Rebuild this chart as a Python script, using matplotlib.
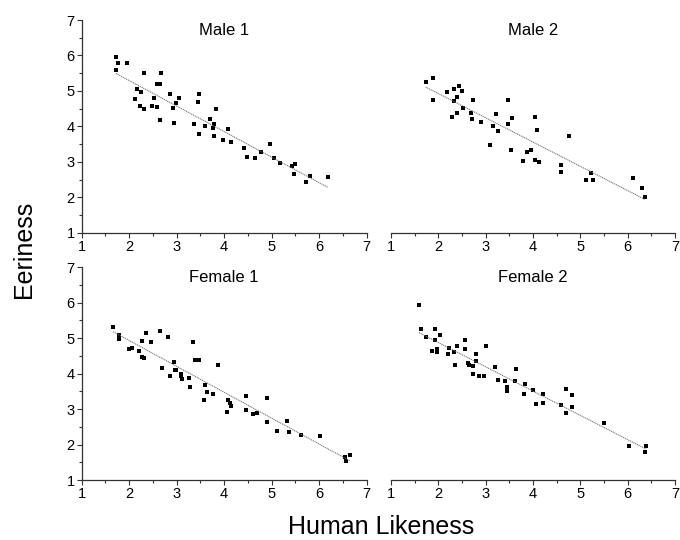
import matplotlib
matplotlib.use("Agg")
import matplotlib.pyplot as plt
import numpy as np
from matplotlib.ticker import MultipleLocator

plt.rcParams['font.family'] = ['Liberation Sans', 'DejaVu Sans']

titles = ["Male 1", "Male 2", "Female 1", "Female 2"]

male1_x = [1.72, 1.76, 1.73, 1.96, 2.32, 2.68, 2.17, 2.25, 2.12, 2.52, 2.58, 2.64,
           2.22, 2.32, 2.48, 2.58, 2.65, 2.87, 2.92, 2.94, 2.99, 3.04, 3.36, 3.44,
           3.47, 3.48, 3.59, 3.71, 3.76, 3.79, 3.79, 3.83, 3.98, 4.09, 4.14, 4.41,
           4.49, 4.65, 4.77, 4.97, 5.05, 5.18, 5.42, 5.50, 5.47, 5.72, 5.81, 6.18]
male1_y = [5.95, 5.80, 5.58, 5.78, 5.51, 5.51, 5.06, 4.97, 4.77, 4.80, 5.19, 5.19,
           4.57, 4.50, 4.57, 4.55, 4.19, 4.90, 4.52, 4.10, 4.67, 4.81, 4.08, 4.70,
           4.90, 3.78, 4.00, 4.20, 3.95, 4.06, 3.73, 4.50, 3.62, 3.93, 3.57, 3.40,
           3.13, 3.11, 3.28, 3.49, 3.12, 2.97, 2.88, 2.95, 2.66, 2.43, 2.61, 2.58]

male2_x = [1.73, 1.88, 1.88, 2.18, 2.34, 2.43, 2.49, 2.40, 2.33, 2.74, 2.53, 2.28,
           2.40, 2.68, 2.71, 2.90, 3.16, 3.22, 3.25, 3.10, 3.48, 3.48, 3.55, 3.54,
           3.78, 3.88, 3.96, 4.05, 4.08, 4.05, 4.13, 4.60, 4.60, 4.75, 5.13, 5.23,
           5.26, 6.12, 6.30, 6.36]
male2_y = [5.25, 5.35, 4.75, 4.97, 5.05, 5.15, 4.99, 4.82, 4.72, 4.73, 4.53, 4.27,
           4.37, 4.38, 4.20, 4.12, 4.00, 4.35, 3.86, 3.46, 4.73, 4.08, 4.23, 3.32,
           3.01, 3.29, 3.34, 4.25, 3.91, 3.06, 2.99, 2.90, 2.72, 3.72, 2.48, 2.69,
           2.48, 2.53, 2.25, 2.00]

female1_x = [1.66, 1.79, 1.79, 2.00, 2.07, 2.21, 2.27, 2.35, 2.46, 2.28, 2.31, 2.64,
             2.70, 2.82, 2.85, 2.95, 2.96, 2.99, 3.09, 3.10, 3.12, 3.26, 3.28, 3.34,
             3.38, 3.48, 3.87, 3.57, 3.59, 3.63, 3.76, 4.09, 4.12, 4.15, 4.07, 4.47,
             4.47, 4.61, 4.70, 4.90, 4.90, 5.11, 5.33, 5.36, 5.62, 6.02, 6.54, 6.56,
             6.65]
female1_y = [5.31, 5.10, 4.98, 4.69, 4.73, 4.65, 4.91, 5.15, 4.90, 4.47, 4.44, 5.21,
             4.17, 5.03, 3.93, 4.34, 4.11, 4.09, 3.98, 3.93, 3.86, 3.89, 3.62, 4.89,
             4.39, 4.39, 4.25, 3.26, 3.68, 3.48, 3.44, 3.25, 3.17, 3.10, 2.91, 3.38,
             2.98, 2.86, 2.89, 3.30, 2.63, 2.39, 2.67, 2.35, 2.28, 2.25, 1.64, 1.53,
             1.70]

female2_x = [1.59, 1.64, 1.74, 1.93, 1.92, 2.04, 1.86, 1.98, 1.98, 2.22, 2.21, 2.33,
             2.40, 2.57, 2.57, 2.36, 2.63, 2.64, 2.74, 2.79, 2.80, 2.74, 2.85, 2.97,
             3.00, 3.19, 3.27, 3.41, 3.46, 3.46, 3.46, 3.64, 3.62, 3.84, 3.80, 3.99,
             4.06, 4.21, 4.21, 4.60, 4.69, 4.82, 4.70, 4.83, 5.49, 6.02, 6.39, 6.36]
female2_y = [5.95, 5.26, 5.04, 5.26, 4.96, 5.08, 4.63, 4.69, 4.62, 4.73, 4.55, 4.60,
             4.79, 4.96, 4.69, 4.25, 4.31, 4.25, 4.22, 4.55, 4.37, 4.00, 3.94, 3.94,
             4.79, 4.18, 3.81, 3.78, 3.63, 3.57, 3.52, 4.14, 3.80, 3.71, 3.44, 3.53,
             3.15, 3.42, 3.18, 3.11, 3.56, 3.41, 2.88, 3.06, 2.62, 1.96, 1.96, 1.80]

series = [(male1_x, male1_y), (male2_x, male2_y), (female1_x, female1_y), (female2_x, female2_y)]

W, H = 680, 540
fig = plt.figure(figsize=(W / 100, H / 100), dpi=100)

lefts = [81.7, 391.0]
widths = [284.8, 284.0]
tops = [20.0, 267.3]
heights = [212.7, 212.7]

spine_color = '#333333'
for i, (xs, ys) in enumerate(series):
    r, c = divmod(i, 2)
    ax = fig.add_axes([lefts[c] / W, 1 - (tops[r] + heights[r]) / H, widths[c] / W, heights[r] / H])
    xs = np.array(xs)
    ys = np.array(ys)
    ax.plot(xs, ys, 's', color='black', ms=3.2, mew=0)
    k, b = np.polyfit(xs, ys, 1)
    lx = np.array([xs.min(), xs.max()])
    ax.plot(lx, k * lx + b, linestyle=(0, (1.2, 0.8)), color='#666666', lw=0.7)
    ax.set_xlim(1, 7)
    ax.set_ylim(1, 7)
    ax.xaxis.set_major_locator(MultipleLocator(1))
    ax.xaxis.set_minor_locator(MultipleLocator(0.5))
    ax.yaxis.set_major_locator(MultipleLocator(1))
    ax.yaxis.set_minor_locator(MultipleLocator(0.5))
    for s in ['top', 'right']:
        ax.spines[s].set_visible(False)
    for s in ['left', 'bottom']:
        ax.spines[s].set_color(spine_color)
        ax.spines[s].set_linewidth(0.9)
    ax.tick_params(which='major', direction='out', length=3.5, width=0.8, color=spine_color,
                   labelsize=10.5, pad=1.5)
    ax.tick_params(which='minor', direction='out', length=2, width=0.8, color=spine_color)
    if c == 1:
        ax.spines['left'].set_visible(False)
        ax.tick_params(axis='y', which='both', left=False, labelleft=False)
    ax.patch.set_alpha(0)
    ax.text(0.5, 0.95, titles[i], transform=ax.transAxes, ha='center', va='center', fontsize=12)

fig.text(24 / W, 1 - 249 / H, "Eeriness", rotation=90, ha='center', va='center', fontsize=18)
fig.text(381 / W, 1 - 526.5 / H, "Human Likeness", ha='center', va='center', fontsize=18)

fig.savefig("out.png", dpi=100)
